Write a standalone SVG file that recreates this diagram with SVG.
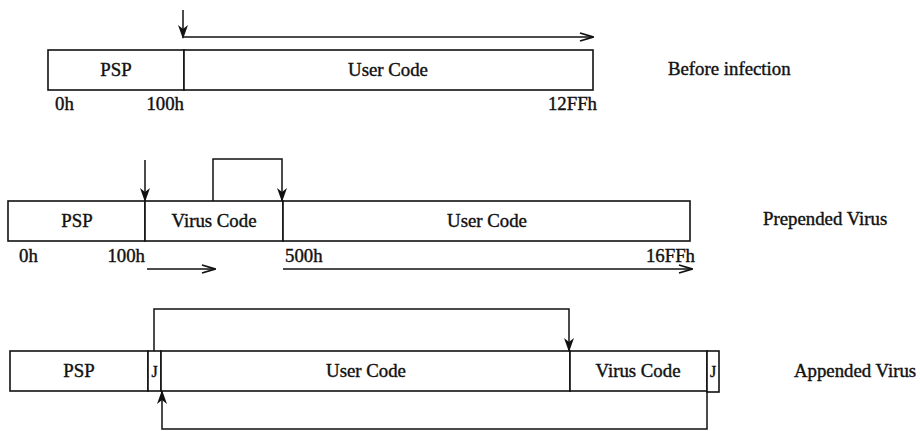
<svg xmlns="http://www.w3.org/2000/svg" width="920" height="431" viewBox="0 0 920 431">
<style>
.box{fill:#fff;stroke:#111;stroke-width:1.6}
.ln{fill:none;stroke:#111;stroke-width:1.5}
.t{font-family:"Liberation Serif","Times New Roman",serif;font-size:18.8px;fill:#111;stroke:#111;stroke-width:0.4}
.c{text-anchor:middle}
.r{text-anchor:end}
</style>
<defs>
<marker id="fa" markerWidth="14" markerHeight="10" refX="13" refY="5" orient="auto" markerUnits="userSpaceOnUse" viewBox="0 0 14 10">
<path d="M0,0 L14,5 L0,10 L4,5 Z" fill="#111"/>
</marker>
<marker id="ch" markerWidth="16" markerHeight="10" refX="15" refY="5" orient="auto" markerUnits="userSpaceOnUse" viewBox="0 0 16 10">
<path d="M2,1 L15,5 L2,9" fill="none" stroke="#111" stroke-width="1.8"/>
</marker>
</defs>
<rect width="920" height="431" fill="#fff"/>

<!-- Row 1: Before infection -->
<g id="r1-psp"><rect class="box" x="48" y="50" width="136" height="40"/><text class="t c" x="116" y="76">PSP</text></g>
<g id="r1-user"><rect class="box" x="184" y="50" width="409" height="40"/><text class="t c" x="388" y="76">User Code</text></g>
<g id="r1-labels">
<text class="t" x="55" y="110">0h</text>
<text class="t r" x="184" y="110">100h</text>
<text class="t r" x="597" y="110">12FFh</text>
<text class="t" x="668" y="75">Before infection</text>
</g>

<!-- Row 2: Prepended Virus -->
<g id="r2-psp"><rect class="box" x="8" y="201" width="137" height="40"/><text class="t c" x="77" y="227">PSP</text></g>
<g id="r2-virus"><rect class="box" x="145" y="201" width="138" height="40"/><text class="t c" x="214" y="227">Virus Code</text></g>
<g id="r2-user"><rect class="box" x="283" y="201" width="407" height="40"/><text class="t c" x="487" y="227">User Code</text></g>
<g id="r2-labels">
<text class="t" x="19" y="262">0h</text>
<text class="t r" x="145" y="262">100h</text>
<text class="t" x="285" y="262">500h</text>
<text class="t r" x="695" y="262">16FFh</text>
<text class="t" x="763" y="225">Prepended Virus</text>
</g>

<!-- Row 3: Appended Virus -->
<g id="r3-psp"><rect class="box" x="10" y="351" width="138" height="40"/><text class="t c" x="79" y="377">PSP</text></g>
<g id="r3-j1"><rect class="box" x="148" y="351" width="13" height="40"/><text class="t c" x="154.5" y="377" style="font-size:16px">J</text></g>
<g id="r3-user"><rect class="box" x="161" y="351" width="409" height="40"/><text class="t c" x="366" y="377">User Code</text></g>
<g id="r3-virus"><rect class="box" x="570" y="351" width="137" height="40"/><text class="t c" x="638" y="377">Virus Code</text></g>
<g id="r3-j2"><rect class="box" x="707" y="351" width="12" height="41"/><text class="t c" x="713" y="377" style="font-size:16px">J</text></g>
<g id="r3-labels">
<text class="t" x="794" y="377">Appended Virus</text>
</g>

<!-- Connectors -->
<g id="connectors">
<line class="ln" x1="183" y1="10" x2="183" y2="38" marker-end="url(#fa)"/>
<line class="ln" x1="184" y1="37" x2="593" y2="37" marker-end="url(#ch)"/>

<line class="ln" x1="145" y1="160" x2="145" y2="201" marker-end="url(#fa)"/>
<polyline class="ln" points="213,201 213,159 282,159 282,201" marker-end="url(#fa)"/>
<line class="ln" x1="147" y1="269" x2="215" y2="269" marker-end="url(#ch)"/>
<line class="ln" x1="283" y1="269" x2="692" y2="269" marker-end="url(#ch)"/>

<polyline class="ln" points="154,351 154,309 569,309 569,351" marker-end="url(#fa)"/>
<polyline class="ln" points="707,391 707,429 162,429 162,391" marker-end="url(#fa)"/>
</g>
</svg>
